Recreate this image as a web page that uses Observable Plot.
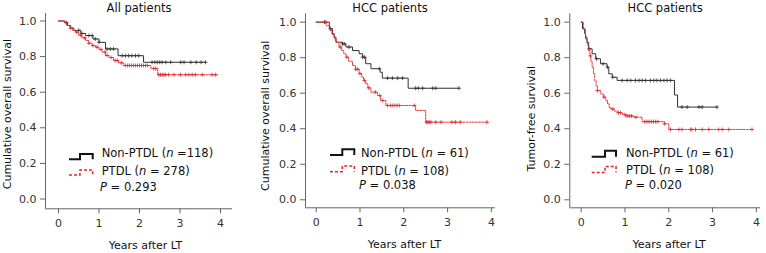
<!DOCTYPE html>
<html><head><meta charset="utf-8">
<script src="https://cdn.jsdelivr.net/npm/d3@7"></script>
<script src="https://cdn.jsdelivr.net/npm/@observablehq/plot@0.6"></script>
<style>
html,body{margin:0;padding:0;background:#fff;}
#chart{position:relative;width:766px;height:253px;overflow:hidden;font-family:"DejaVu Sans",Verdana,sans-serif;}
#chart > .panel{position:absolute;top:0;}
</style></head><body><div id="chart"></div>
<script>
// ---------- data ----------
const panelTitles = ["All patients", "HCC patients", "HCC patients"];
const yLabels = ["Cumulative overall survival", "Cumulative overall survival", "Tumor-free survival"];
const xLabel = "Years after LT";
const xTicks = [0, 1, 2, 3, 4];
const yTicks = [0, 0.2, 0.4, 0.6, 0.8, 1.0];
const groupNames = ["Non-PTDL", "PTDL"];
const nLabels = [["=118", "= 278"], ["= 61", "= 108"], ["= 61", "= 108"]];
const pValues = ["0.293", "0.038", "0.020"];

// Panel 1: all patients, overall survival
const p1NonT = [0, 0.16, 0.22, 0.30, 0.38, 0.55, 0.67, 0.85, 1.00, 1.16, 1.47, 2.10, 3.63];
const p1NonS = [1.0, 0.99, 0.975, 0.96, 0.947, 0.93, 0.918, 0.899, 0.88, 0.843, 0.805, 0.768, 0.768];
const p1NonC = [0.2, 0.5, 0.58, 0.75, 0.83, 0.91, 1.0, 1.2, 1.28, 1.36, 1.57, 1.65, 1.73, 1.81, 1.9, 1.98, 2.31, 2.38, 2.44, 2.5, 2.56, 2.65, 2.77, 3.02, 3.1, 3.27, 3.4, 3.52, 3.63];
const p1PtT = [0, 0.15, 0.20, 0.28, 0.35, 0.42, 0.50, 0.58, 0.67, 0.75, 0.83, 0.91, 1.00, 1.08, 1.16, 1.25, 1.36, 1.48, 1.60, 2.28, 2.45, 3.92];
const p1PtS = [1.0, 0.99, 0.975, 0.96, 0.947, 0.937, 0.92, 0.905, 0.89, 0.875, 0.862, 0.853, 0.84, 0.825, 0.806, 0.795, 0.778, 0.765, 0.75, 0.733, 0.698, 0.698];
const p1PtC = [0.3, 0.45, 0.55, 0.65, 0.75, 0.85, 0.95, 1.05, 1.15, 1.2, 1.3, 1.4, 1.45, 1.55, 1.65, 1.7, 1.75, 1.8, 1.85, 1.9, 1.95, 2.0, 2.05, 2.1, 2.15, 2.2, 2.35, 2.4, 2.48, 2.52, 2.56, 2.6, 2.64, 2.72, 2.85, 3.01, 3.14, 3.22, 3.3, 3.38, 3.55, 3.79, 3.88];

// Panel 2: HCC patients, overall survival
const p2NonT = [0, 0.30, 0.37, 0.41, 0.45, 0.60, 0.68, 0.83, 0.98, 1.06, 1.13, 1.25, 1.46, 1.51, 2.10, 3.26];
const p2NonS = [1.0, 0.963, 0.935, 0.916, 0.887, 0.878, 0.86, 0.84, 0.822, 0.803, 0.766, 0.738, 0.718, 0.685, 0.628, 0.628];
const p2NonC = [0.19, 0.33, 0.6, 0.64, 0.75, 1.06, 1.1, 1.44, 1.63, 1.74, 1.86, 1.97, 2.27, 2.33, 2.43, 2.66, 2.73, 3.26];
const p2PtT = [0, 0.23, 0.31, 0.36, 0.41, 0.46, 0.52, 0.58, 0.63, 0.68, 0.74, 0.83, 0.90, 0.98, 1.04, 1.08, 1.13, 1.18, 1.25, 1.40, 1.47, 1.59, 2.27, 2.50, 3.91];
const p2PtS = [1.0, 0.98, 0.953, 0.93, 0.906, 0.885, 0.86, 0.84, 0.822, 0.803, 0.78, 0.756, 0.735, 0.71, 0.69, 0.672, 0.653, 0.63, 0.606, 0.587, 0.559, 0.531, 0.503, 0.437, 0.437];
const p2PtC = [0.22, 0.55, 0.7, 0.9, 0.95, 1.0, 1.1, 1.2, 1.35, 1.45, 1.52, 1.63, 1.7, 1.75, 1.8, 1.85, 1.9, 2.24, 2.52, 2.55, 2.58, 2.62, 2.73, 2.85, 3.1, 3.18, 3.29, 3.9];

// Panel 3: HCC patients, tumor-free survival
const p3NonT = [0, 0.03, 0.08, 0.10, 0.13, 0.17, 0.25, 0.33, 0.44, 0.59, 0.63, 0.71, 0.82, 2.13, 2.20, 3.10];
const p3NonS = [1.0, 0.963, 0.935, 0.916, 0.887, 0.85, 0.822, 0.794, 0.766, 0.747, 0.709, 0.69, 0.672, 0.59, 0.522, 0.522];
const p3NonC = [0.18, 0.35, 0.5, 0.6, 0.72, 0.935, 1.05, 1.13, 1.24, 1.32, 1.39, 1.47, 1.58, 1.66, 1.73, 1.81, 1.89, 1.96, 2.04, 2.3, 2.42, 2.69, 2.76, 3.1];
const p3PtT = [0, 0.05, 0.10, 0.14, 0.17, 0.20, 0.22, 0.25, 0.28, 0.31, 0.34, 0.37, 0.45, 0.52, 0.56, 0.60, 0.64, 0.67, 0.75, 0.82, 0.94, 1.01, 1.20, 1.39, 1.90, 2.00, 3.90];
const p3PtS = [1.0, 0.96, 0.906, 0.87, 0.84, 0.81, 0.78, 0.747, 0.71, 0.67, 0.64, 0.615, 0.595, 0.578, 0.56, 0.54, 0.52, 0.512, 0.5, 0.49, 0.48, 0.472, 0.465, 0.44, 0.428, 0.396, 0.396];
const p3PtC = [0.21, 0.37, 0.52, 0.72, 0.85, 0.9, 1.0, 1.05, 1.1, 1.15, 1.25, 1.45, 1.5, 1.55, 1.6, 1.65, 1.7, 1.75, 1.9, 2.04, 2.23, 2.3, 2.5, 2.53, 2.61, 2.76, 2.91, 3.14, 3.22, 3.37, 3.9];

const seriesColors = ["#333333", "#e3262d"];

// ---------- layout ----------
const layouts = [
  {left: 0, width: 255, ml: 45, mr: 23, mt: 13, mb: 44.7, xd: [-0.321, 4.296], yd: [-0.055, 1.042],
   titleDx: 0, xLabDx: 6.5, yLabDx: -38, yLabDy: 3,
   leg: {x0: 24, xs: 35, x1: 47.7, bl: [159.3, 154], rl: [175, 170], tx: 56.7, px: 55, rows: [153, 170.5, 186.5]}},
  {left: 255, width: 255, ml: 50, mr: 15, mt: 13.3, mb: 45.7, xd: [-0.244, 4.094], yd: [-0.045, 1.047],
   titleDx: -10.5, xLabDx: 4, yLabDx: -40, yLabDy: 5,
   leg: {x0: 25, xs: 37.3, x1: 49.3, bl: [155, 149.3], rl: [171.7, 166], tx: 56, px: 54, rows: [153.3, 170.7, 185]}},
  {left: 510, width: 256, ml: 59.3, mr: 6, mt: 13.3, mb: 45.7, xd: [-0.26, 4.094], yd: [-0.045, 1.047],
   titleDx: 0, xLabDx: 4, yLabDx: -38.6, yLabDy: 8,
   leg: {x0: 22.4, xs: 35.7, x1: 46.7, bl: [156.7, 150.7], rl: [172.5, 166.5], tx: 56.7, px: 55.7, rows: [153.3, 170, 185]}}
];

const curves = [
  [[p1NonT, p1NonS, p1NonC], [p1PtT, p1PtS, p1PtC]],
  [[p2NonT, p2NonS, p2NonC], [p2PtT, p2PtS, p2PtC]],
  [[p3NonT, p3NonS, p3NonC], [p3PtT, p3PtS, p3PtC]]
];

function survAt(T, S, t) {
  let s = S[0];
  for (let i = 0; i < T.length; i++) { if (T[i] <= t) s = S[i]; else break; }
  return s;
}

const chart = document.getElementById("chart");
const FONT = '"DejaVu Sans", Verdana, sans-serif';

layouts.forEach((L, pi) => {
  const marks = [];
  const H = 253;
  marks.push(Plot.ruleX([L.xd[0]], {stroke: "#666", strokeWidth: 1}));
  marks.push(Plot.ruleY([L.yd[0]], {stroke: "#666", strokeWidth: 1}));
  marks.push(Plot.axisY({ticks: yTicks, tickFormat: d3.format(".1f"), tickSize: 5, tickPadding: 4, label: null, stroke: "#666", fill: "#333", fontSize: 11}));
  marks.push(Plot.axisX({ticks: xTicks, tickFormat: d3.format("d"), tickSize: 5, tickPadding: 5, label: null, stroke: "#666", fill: "#333", fontSize: 11}));
  curves[pi].forEach(([T, S, C], gi) => {
    const pts = T.map((t, i) => ({t, s: S[i]}));
    const cens = C.map(t => ({t, s: survAt(T, S, t)}));
    const color = seriesColors[gi];
    marks.push(Plot.line(pts, {x: "t", y: "s", curve: "step-after", stroke: color,
      strokeWidth: gi === 0 ? 1 : 0.9, strokeDasharray: gi === 0 ? null : "2,1.2"}));
    marks.push(Plot.dot(cens, {x: "t", y: "s", symbol: "plus", r: 1.4, stroke: color, strokeWidth: 0.8}));
  });
  marks.push(Plot.text([panelTitles[pi]], {frameAnchor: "top", lineAnchor: "middle", dy: -5, dx: L.titleDx, fontSize: 11.5, fill: "#111"}));
  marks.push(Plot.text([xLabel], {frameAnchor: "bottom", lineAnchor: "middle", dy: 37, dx: L.xLabDx, fontSize: 11, fill: "#111"}));
  marks.push(Plot.text([yLabels[pi]], {frameAnchor: "left", rotate: -90, lineAnchor: "middle", textAnchor: "middle", dx: L.yLabDx, dy: L.yLabDy, fontSize: 11, fill: "#111"}));

  const svg = Plot.plot({
    width: L.width, height: H,
    marginLeft: L.ml, marginRight: L.mr, marginTop: L.mt, marginBottom: L.mb,
    x: {domain: L.xd}, y: {domain: L.yd},
    style: {fontFamily: FONT, fontSize: "11px", background: "white", overflow: "visible"},
    marks
  });

  // legend
  const g = d3.select(svg).append("g").attr("transform", `translate(${L.ml},0)`)
    .attr("font-family", FONT).attr("font-size", 11.5).attr("fill", "#111")
    .attr("text-anchor", "start");
  const lg = L.leg;
  const glyph = (lohi, color, w, dash) => g.append("path")
    .attr("d", `M${lg.x0},${lohi[0]}H${lg.xs}V${lohi[1]}H${lg.x1}V${lohi[0]}`)
    .attr("fill", "none").attr("stroke", color).attr("stroke-width", w)
    .attr("stroke-dasharray", dash);
  glyph(lg.bl, "#111", 2, null);
  glyph(lg.rl, seriesColors[1], 1.5, "3,2");
  [0, 1].forEach(i => {
    const t = g.append("text").attr("x", lg.tx).attr("y", lg.rows[i]).attr("dy", "0.35em").attr("text-anchor", "start");
    t.append("tspan").text(groupNames[i] + " (");
    t.append("tspan").attr("font-style", "italic").text("n");
    t.append("tspan").text(" " + nLabels[pi][i] + ")");
  });
  const pt = g.append("text").attr("x", lg.px).attr("y", lg.rows[2]).attr("dy", "0.35em").attr("text-anchor", "start");
  pt.append("tspan").attr("font-style", "italic").text("P");
  pt.append("tspan").text(" = " + pValues[pi]);

  const wrap = document.createElement("div");
  wrap.className = "panel";
  wrap.style.left = L.left + "px";
  wrap.appendChild(svg);
  chart.appendChild(wrap);
});
</script></body></html>
